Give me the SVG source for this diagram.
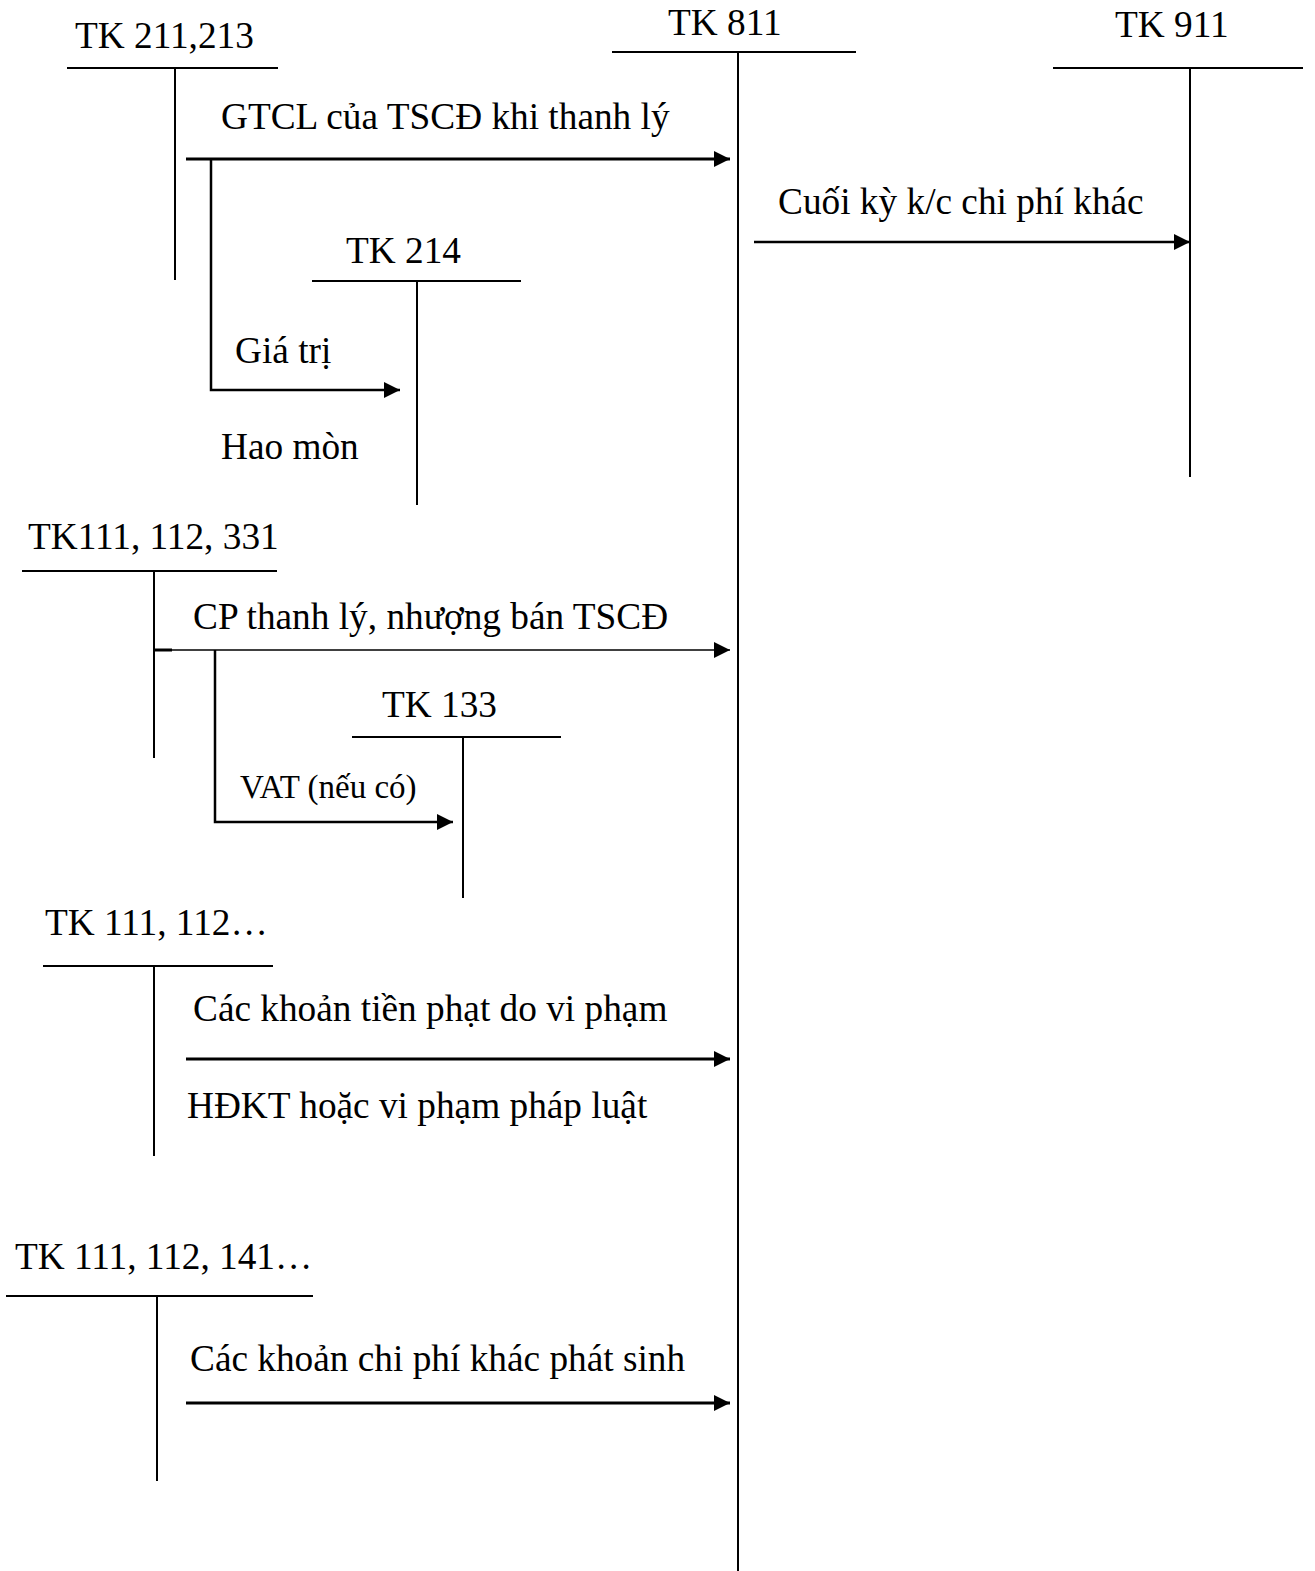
<svg xmlns="http://www.w3.org/2000/svg" width="1315" height="1571" viewBox="0 0 1315 1571">
<style>
text{font-family:"Liberation Serif","Times New Roman",serif;font-size:37.3px;fill:#000}
.sm{font-size:33px}
.acct line{stroke:#000;stroke-width:2}
.conn line,.conn polyline{stroke:#000;fill:none}
.thick{stroke-width:3}
.mid{stroke-width:2.5}
.thin{stroke-width:1.3}
</style>
<defs>
<marker id="ah" markerUnits="userSpaceOnUse" markerWidth="16" markerHeight="16" refX="16" refY="8" orient="auto">
<path d="M0,0 L16,8 L0,16 Z" fill="#000"/>
</marker>
</defs>
<rect width="1315" height="1571" fill="#fff"/>

<g id="tk211" class="acct">
<text x="75" y="48">TK 211,213</text>
<line x1="67" y1="68" x2="278" y2="68"/>
<line x1="175" y1="68" x2="175" y2="280"/>
</g>
<g id="tk811" class="acct">
<text x="668" y="35">TK 811</text>
<line x1="612" y1="52" x2="856" y2="52"/>
<line x1="738" y1="52" x2="738" y2="1571"/>
</g>
<g id="tk911" class="acct">
<text x="1115" y="37">TK 911</text>
<line x1="1053" y1="68" x2="1303" y2="68"/>
<line x1="1190" y1="68" x2="1190" y2="477"/>
</g>
<g id="tk214" class="acct">
<text x="346" y="263">TK 214</text>
<line x1="312" y1="281" x2="521" y2="281"/>
<line x1="417" y1="281" x2="417" y2="505"/>
</g>
<g id="tk111_331" class="acct">
<text x="28" y="549">TK111, 112, 331</text>
<line x1="22" y1="571" x2="277" y2="571"/>
<line x1="154" y1="571" x2="154" y2="758"/>
</g>
<g id="tk133" class="acct">
<text x="382" y="717">TK 133</text>
<line x1="352" y1="737" x2="561" y2="737"/>
<line x1="463" y1="737" x2="463" y2="898"/>
</g>
<g id="tk111_112" class="acct">
<text x="45" y="935">TK 111, 112…</text>
<line x1="43" y1="966" x2="273" y2="966"/>
<line x1="154" y1="966" x2="154" y2="1156"/>
</g>
<g id="tk111_141" class="acct">
<text x="15" y="1269">TK 111, 112, 141…</text>
<line x1="6" y1="1296" x2="313" y2="1296"/>
<line x1="157" y1="1296" x2="157" y2="1481"/>
</g>

<g id="connectors" class="conn">
<line class="thick" x1="186" y1="159" x2="730" y2="159" marker-end="url(#ah)"/>
<polyline class="mid" points="211,159 211,390 400,390" marker-end="url(#ah)"/>
<line class="mid" x1="754" y1="242" x2="1190" y2="242" marker-end="url(#ah)"/>
<line class="thick" x1="154" y1="650" x2="172" y2="650"/>
<line class="thin" x1="172" y1="650" x2="730" y2="650" marker-end="url(#ah)"/>
<polyline class="mid" points="215,650 215,822 453,822" marker-end="url(#ah)"/>
<line class="thick" x1="186" y1="1059" x2="730" y2="1059" marker-end="url(#ah)"/>
<line class="thick" x1="186" y1="1403" x2="730" y2="1403" marker-end="url(#ah)"/>
</g>

<g id="labels">
<text x="221" y="129">GTCL của TSCĐ khi thanh lý</text>
<text x="778" y="214">Cuối kỳ k/c chi phí khác</text>
<text x="235" y="363">Giá trị</text>
<text x="221" y="459">Hao mòn</text>
<text x="193" y="629">CP thanh lý, nhượng bán TSCĐ</text>
<text class="sm" x="240" y="798">VAT (nếu có)</text>
<text x="193" y="1021">Các khoản tiền phạt do vi phạm</text>
<text x="187" y="1118">HĐKT hoặc vi phạm pháp luật</text>
<text x="190" y="1371">Các khoản chi phí khác phát sinh</text>
</g>
</svg>
